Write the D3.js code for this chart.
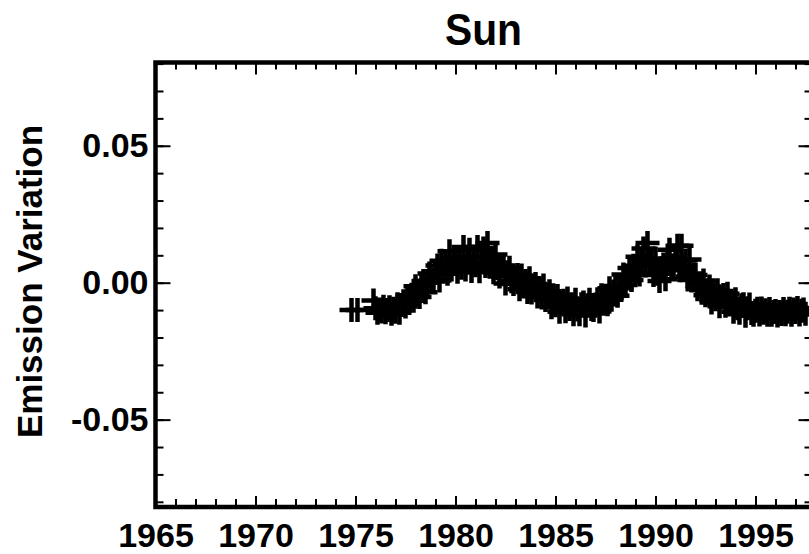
<!DOCTYPE html>
<html>
<head>
<meta charset="utf-8">
<script src="https://cdn.jsdelivr.net/npm/d3@7"></script>
<style>
  body { margin: 0; background: #fff; }
  svg { display: block; }
</style>
</head>
<body>
<svg id="chart" width="809" height="554"></svg>
<script>
"use strict";

// Textes et graduations
const titleText = "Sun";
const yTitleText = "Emission Variation";
const xMajorTicks = [1965, 1970, 1975, 1980, 1985, 1990, 1995];
const yMajorTicks = [-0.05, 0, 0.05];
const yTickLabels = ["-0.05", "0.00", "0.05"];

// Deux points isolés au début de la série
const isolatedYears = [1974.8, 1975.1];
const isolatedValues = [-0.010, -0.010];

// Série échantillonnée tous les 0.1 an à partir de 1975.9 (valeurs en millièmes)
const sampleStart = 1975.9;
const sampleStep = 0.1;
const emissionMilli = [
  -6.5,
  -9.3, -11, -9.8, -10.5, -8.8, -10.8, -10, -9, -11.3, -9.5,       // 1976
  -10.6, -7.9, -11, -8.1, -6.8, -8.7, -5, -6.7, -4.8, -6.6,        // 1977
  -1.3, -4.2, -5.2, -0.8, 0.6, -3.5, 0.6, 3.4, 0.8, 1.2,           // 1978
  3.5, 6.3, 0.8, 8, 4, 7.5, 3.3, 11.5, 4.8, 7.8,                   // 1979
  9.3, 4, 7.8, 5.5, 13, 4.8, 7.3, 12, 4.3, 9.5,                    // 1980
  6.4, 13, 4.2, 9.2, 12.5, 6.1, 14.5, 7.2, 9.1, 3.8,               // 1981
  10.3, 5.3, 2.3, 6.1, 6.3, -0.3, 3.8, 5.5, 0.5, -0.5,             // 1982
  1.3, 2.8, -2.4, 2.6, -1.4, 0.6, -3.4, 1.6, -3.6, -1.4,           // 1983
  -0.5, -5, -2.4, -4.7, -1, -6.3, -5, -3.1, -9, -5.3,              // 1984
  -8.2, -4.9, -10.6, -7.4, -6.6, -10.4, -5.8, -9.6, -7.9, -11.5,   // 1985
  -6.2, -9.8, -11.5, -7.9, -7.2, -12, -8.2, -6.2, -9.6, -10,       // 1986
  -8, -6, -10.5, -4.6, -7.7, -4.8, -7.9, -2, -6.2, -3.2,           // 1987
  -1.4, -4.8, -1, -2, 3, -0.8, 2, 5.4, 1, 6.2,                     // 1988
  3.9, 9.5, 3, 8.6, 12.5, 6.3, 14.5, 7.2, 8.6, 2.8,                // 1989
  8.8, 3.3, 0.6, 5.3, 6.6, 1.3, 6.8, 12, 6.3, 6.2,                 // 1990
  9, 13.5, 4.5, 13.5, 5.7, 8.1, 2.3, 8.5, 1, 3,                    // 1991
  2.8, -2.4, -0.2, -2.8, 0.8, -4.6, -3.3, -1.4, -7.2, -3.3,        // 1992
  -6, -2.8, -8.6, -5.4, -4.5, -8.4, -4, -8, -6.6, -10.6,           // 1993
  -6, -9.3, -11, -8.2, -7.9, -12.1, -9.3, -8, -11.1, -11.7,        // 1994
  -10.2, -9.5, -11.6, -9.4, -11, -10.1, -11.7, -9.6, -11.7, -10.7, // 1995
  -10.3, -12, -10.7, -11.4, -9.6, -11.5, -10.6, -9.5, -11.7, -9.8, // 1996
  -10.7, -9.2, -11.6, -10.2, -9.8, -11.3                           // 1997
];

const FONT = "'Liberation Sans', Arial, Helvetica, sans-serif";

// Points à tracer
var points = isolatedYears.map(function (yr, i) {
  return { year: yr, value: isolatedValues[i] };
});
emissionMilli.forEach(function (v, i) {
  points.push({ year: sampleStart + i * sampleStep, value: v / 1000 });
});

var svg = d3.select("#chart");

var x = d3.scaleLinear().domain([1965, 1997.8]).range([155.5, 811.5]);
var y = d3.scaleLinear().domain([-0.0819, 0.0804]).range([507, 62.5]);

var minorYears = d3.range(1965, 1998);
var minorY = d3.range(-8, 9).map(function (d) { return d / 100; });

// Crée un axe sans ligne de domaine
function addAxis(axis, transform) {
  var g = svg.append("g").attr("transform", transform).call(axis);
  g.select(".domain").remove();
  g.selectAll("line").attr("stroke", "#000").attr("stroke-width", 2);
  g.selectAll("text")
    .attr("fill", "#000")
    .attr("font-family", FONT)
    .attr("font-weight", "bold")
    .attr("font-size", 34);
  return g;
}

// Graduations secondaires
addAxis(d3.axisBottom(x).tickValues(minorYears).tickSize(-8).tickFormat(""), "translate(0,507)");
addAxis(d3.axisTop(x).tickValues(minorYears).tickSize(-7).tickFormat(""), "translate(0,62.5)");
addAxis(d3.axisLeft(y).tickValues(minorY).tickSize(-8).tickFormat(""), "translate(155.5,0)");
addAxis(d3.axisRight(y).tickValues(minorY).tickSize(-7).tickFormat(""), "translate(811.5,0)");

// Graduations principales
addAxis(d3.axisBottom(x).tickValues(xMajorTicks).tickSize(-11).tickPadding(16)
  .tickFormat(d3.format("d")), "translate(0,507)");
addAxis(d3.axisTop(x).tickValues(xMajorTicks).tickSize(-12).tickFormat(""), "translate(0,62.5)");
addAxis(d3.axisLeft(y).tickValues(yMajorTicks).tickSize(-15).tickPadding(7)
  .tickFormat(function (d, i) { return yTickLabels[i]; }), "translate(155.5,0)");
addAxis(d3.axisRight(y).tickValues(yMajorTicks).tickSize(-13).tickFormat(""), "translate(811.5,0)");

// Symboles "+"
svg.append("g")
  .selectAll("path")
  .data(points)
  .enter()
  .append("path")
  .attr("transform", function (d) {
    return "translate(" + x(d.year) + "," + y(d.value) + ")";
  })
  .attr("d", "M-12,0H12M0,-12V12")
  .attr("fill", "none")
  .attr("stroke", "#000")
  .attr("stroke-width", 4.5);

// Cadre
svg.append("rect")
  .attr("x", x(1965))
  .attr("y", y.range()[1])
  .attr("width", x(1997.8) - x(1965))
  .attr("height", y.range()[0] - y.range()[1])
  .attr("fill", "none")
  .attr("stroke", "#000")
  .attr("stroke-width", 4.5);

// Titre
svg.append("text")
  .attr("x", 483.5)
  .attr("y", 45)
  .attr("text-anchor", "middle")
  .attr("font-family", FONT)
  .attr("font-weight", "bold")
  .attr("font-size", 44)
  .attr("textLength", 77)
  .attr("lengthAdjust", "spacingAndGlyphs")
  .text(titleText);

// Titre de l'axe Y
svg.append("text")
  .attr("transform", "translate(42,281.5) rotate(-90)")
  .attr("text-anchor", "middle")
  .attr("font-family", FONT)
  .attr("font-weight", "bold")
  .attr("font-size", 35)
  .text(yTitleText);
</script>
</body>
</html>
